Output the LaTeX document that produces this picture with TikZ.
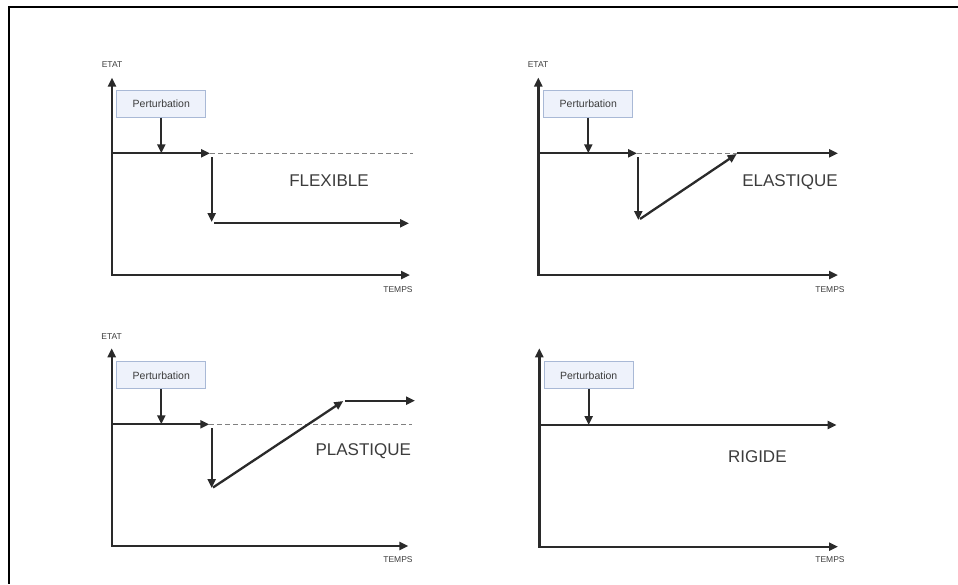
\documentclass[tikz,border=0pt]{standalone}
\usepackage{fontspec}
\setmainfont{Liberation Sans}
\usetikzlibrary{arrows.meta}
\definecolor{ink}{HTML}{2A2A2A}
\definecolor{txt}{HTML}{3C3C3C}
\definecolor{boxfill}{HTML}{EEF2FB}
\definecolor{boxline}{HTML}{A9B9D6}
\definecolor{dashc}{HTML}{808080}
\begin{document}
\begin{tikzpicture}[x=1pt,y=-1pt,
  tip/.tip={Triangle[length=9pt,width=8pt]},
  axis/.style={draw=ink, line width=2.4pt, tip-tip},
  curve/.style={draw=ink, line width=2.3pt, -tip},
  refline/.style={draw=dashc, line width=1.1pt, dash pattern=on 4.5pt off 3.5pt},
  pbox/.style={draw=boxline, fill=boxfill, line width=0.8pt, minimum width=89pt, minimum height=27pt, inner sep=0pt, font=\fontsize{10.5}{12}\selectfont, text=txt},
  axlabel/.style={font=\fontsize{8.5}{10}\selectfont, text=txt, inner sep=0pt},
  kind/.style={font=\fontsize{17}{20}\selectfont, text=txt, inner sep=0pt}]
\useasboundingbox (0,0) rectangle (958,584);
% frame
\coordinate (fr1) at (958,6.5);
\coordinate (fr2) at (8.5,6.5);
\coordinate (fr3) at (8.5,584);
\draw[line width=2pt, black] (fr1) -- (fr2) -- (fr3);

% ---------- Panel 1 : FLEXIBLE ----------
\coordinate (y1) at (112,77.5);
\coordinate (o1) at (112,275);
\coordinate (x1) at (410,275);
\draw[axis] (y1) -- (o1) -- (x1);
\node[axlabel] (e1) at (112,65) {ETAT};
\node[axlabel] (t1) at (398,290) {TEMPS};
\node[pbox] (p1) at (161.3,103.7) {Perturbation};
\coordinate (b1) at (112,153.3);
\coordinate (c1) at (210,153.3);
\coordinate (d1) at (413,153.3);
\draw[refline] (c1) -- (d1);
\draw[curve] (b1) -- (c1);
\draw[curve] (p1.south) -- (p1.south |- b1);
\coordinate (s1) at (211.7,157);
\coordinate (f1) at (211.7,222);
\draw[curve] (s1) -- (f1);
\coordinate (g1) at (214,223.3);
\coordinate (h1) at (409,223.3);
\draw[curve] (g1) -- (h1);
\node[kind] (k1) at (329,181) {FLEXIBLE};

% ---------- Panel 2 : ELASTIQUE ----------
\coordinate (y2) at (538.3,77.5);
\coordinate (o2) at (538.3,275);
\coordinate (x2) at (838,275);
\draw[axis] (y2) -- (o2) -- (x2);
\node[axlabel] (e2) at (538,65) {ETAT};
\node[axlabel] (t2) at (830,290) {TEMPS};
\node[pbox] (p2) at (588.3,103.7) {Perturbation};
\coordinate (b2) at (538.3,153.3);
\coordinate (c2) at (637,153.3);
\coordinate (d2) at (736.7,153.3);
\coordinate (e2r) at (838,153.3);
\draw[refline] (c2) -- (d2);
\draw[curve] (b2) -- (c2);
\draw[curve] (d2) -- (e2r);
\draw[curve] (p2.south) -- (p2.south |- b2);
\coordinate (s2) at (638.3,157);
\coordinate (f2) at (638.3,220);
\draw[curve] (s2) -- (f2);
\coordinate (g2) at (640,219);
\coordinate (h2) at (736.7,154);
\draw[curve] (g2) -- (h2);
\node[kind] (k2) at (790,181.7) {ELASTIQUE};

% ---------- Panel 3 : PLASTIQUE ----------
\coordinate (y3) at (111.7,348.3);
\coordinate (o3) at (111.7,546);
\coordinate (x3) at (408.3,546);
\draw[axis] (y3) -- (o3) -- (x3);
\node[axlabel] (e3) at (111.7,336.7) {ETAT};
\node[axlabel] (t3) at (398,560) {TEMPS};
\node[pbox] (p3) at (161.3,375.3) {Perturbation};
\coordinate (b3) at (111.7,424.3);
\coordinate (c3) at (209.3,424.3);
\coordinate (d3) at (411.7,424.3);
\draw[refline] (c3) -- (d3);
\draw[curve] (b3) -- (c3);
\draw[curve] (p3.south) -- (p3.south |- b3);
\coordinate (s3) at (211.7,428);
\coordinate (f3) at (211.7,488);
\draw[curve] (s3) -- (f3);
\coordinate (g3) at (213,487.5);
\coordinate (h3) at (343.3,401);
\draw[curve] (g3) -- (h3);
\coordinate (i3) at (345,400.7);
\coordinate (j3) at (415,400.7);
\draw[curve] (i3) -- (j3);
\node[kind] (k3) at (363.3,450.7) {PLASTIQUE};

% ---------- Panel 4 : RIGIDE ----------
\coordinate (y4) at (539.3,348.3);
\coordinate (o4) at (539.3,546.7);
\coordinate (x4) at (838,546.7);
\draw[axis] (y4) -- (o4) -- (x4);
\node[axlabel] (t4) at (830,560) {TEMPS};
\node[pbox] (p4) at (588.7,375.3) {Perturbation};
\coordinate (b4) at (539.3,425);
\coordinate (c4) at (836.7,425);
\draw[curve] (b4) -- (c4);
\draw[curve] (p4.south) -- (p4.south |- b4);
\node[kind] (k4) at (757.3,456.7) {RIGIDE};
\end{tikzpicture}
\end{document}
